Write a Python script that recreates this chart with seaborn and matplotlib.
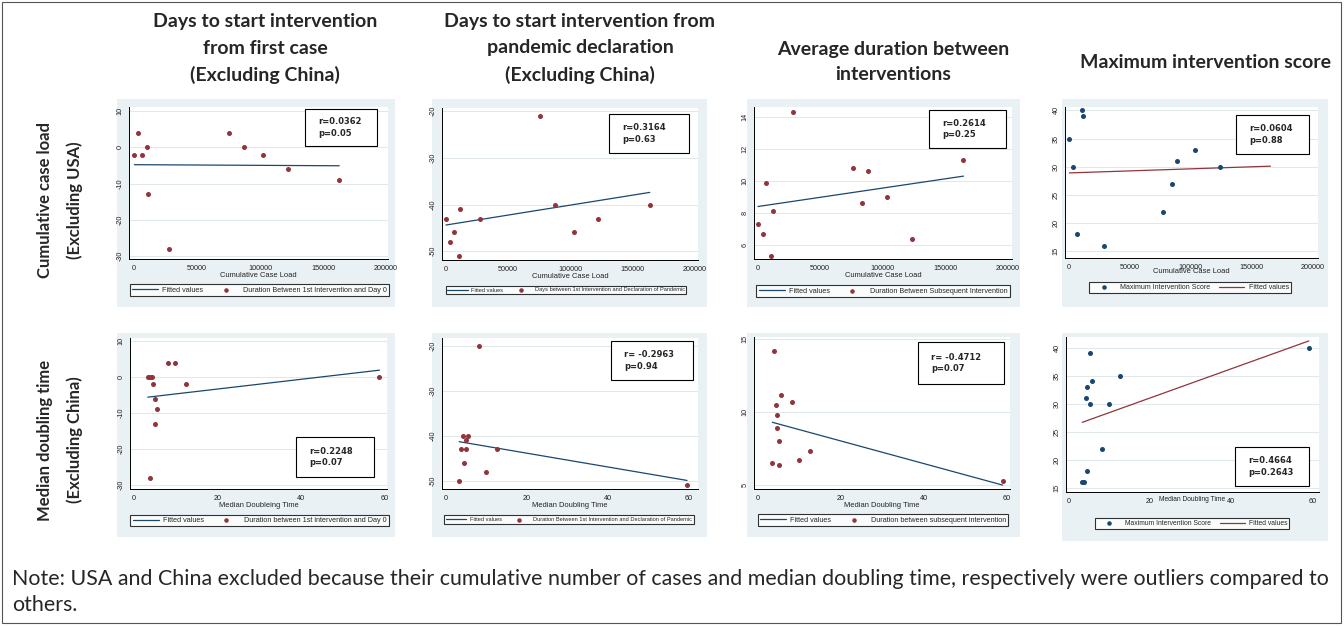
import matplotlib
matplotlib.use("Agg")
import matplotlib.pyplot as plt
from matplotlib.patches import Rectangle
import seaborn as sns
import pandas as pd

W, H = 1344, 626

# ---------------- data ----------------
# Row 1: x = cumulative case load (excluding USA)
case_load_p1 = [300, 3400, 6600, 10100, 11400, 27800, 75500, 87400, 102300, 121900, 162900]
days_first_case_p1 = [-2, 4, -2, 0, -13, -28, 4, 0, -2, -6, -9]
fit_x_p1 = [300, 162900]
fit_y_p1 = [-4.8, -5.1]

case_load_p2 = [500, 4000, 6700, 10700, 11500, 28000, 76000, 88000, 102900, 122700, 164000]
days_pandemic_p2 = [-43, -48, -46, -51, -41, -43, -21, -40, -46, -43, -40]
fit_x_p2 = [500, 164000]
fit_y_p2 = [-44.4, -37.4]

case_load_p3 = [500, 4300, 6900, 10700, 12300, 28800, 76300, 83700, 88500, 103200, 123200, 164500]
avg_duration_p3 = [7.3, 6.7, 9.9, 5.3, 8.1, 14.3, 10.8, 8.6, 10.6, 9.0, 6.4, 11.3]
fit_x_p3 = [500, 164500]
fit_y_p3 = [8.4, 10.3]

case_load_p4 = [300, 3500, 6800, 10400, 11700, 28400, 76700, 84100, 88700, 103400, 124200]
max_score_p4 = [35, 30, 18, 40, 39, 16, 22, 27, 31, 33, 30]
fit_x_p4 = [300, 165200]
fit_y_p4 = [28.9, 30.1]

# Row 2: x = median doubling time (excluding China)
doubling_p5 = [3.3, 3.8, 4.2, 4.6, 5.0, 5.6, 5.1, 3.8, 8.1, 9.8, 12.4, 58.7]
days_first_case_p5 = [0, 0, 0, -2, -6, -9, -13, -28, 4, 4, -2, 0]
fit_x_p5 = [3.3, 58.7]
fit_y_p5 = [-5.6, 1.9]

doubling_p6 = [3.4, 3.9, 4.3, 4.6, 5.1, 5.2, 5.7, 8.3, 10.1, 12.7, 59.5]
days_pandemic_p6 = [-50, -43, -40, -46, -43, -41, -40, -20, -48, -43, -51]
fit_x_p6 = [3.4, 59.5]
fit_y_p6 = [-41.3, -49.9]

doubling_p7 = [4.0, 5.8, 4.4, 8.4, 4.7, 4.7, 5.2, 12.6, 10.0, 3.6, 5.2, 59.0]
avg_duration_p7 = [14.2, 11.2, 10.5, 10.7, 9.8, 8.9, 8.0, 7.3, 6.7, 6.5, 6.4, 5.3]
fit_x_p7 = [3.6, 59.0]
fit_y_p7 = [9.3, 5.0]

doubling_p8 = [3.4, 3.9, 4.7, 4.3, 4.7, 5.2, 5.2, 5.7, 8.3, 10.0, 12.6, 59.0]
max_score_p8 = [16, 16, 18, 31, 33, 39, 30, 34, 22, 30, 35, 40]
fit_x_p8 = [3.4, 59.0]
fit_y_p8 = [26.7, 41.2]

stats_labels = ["r=0.0362\np=0.05", "r=0.3164\np=0.63", "r=0.2614\np=0.25", "r=0.0604\np=0.88",
                "r=0.2248\np=0.07", "r= -0.2963\np=0.94", "r= -0.4712\np=0.07", "r=0.4664\np=0.2643"]

col_titles = [["Days to start intervention", "from first case", "(Excluding China)"],
              ["Days to start intervention from", "pandemic declaration", "(Excluding China)"],
              ["Average duration between", "interventions"],
              ["Maximum intervention score"]]
row_titles = [["Cumulative case load", "(Excluding USA)"],
              ["Median doubling time", "(Excluding China)"]]

x_ticks_case = [0, 50000, 100000, 150000, 200000]
x_ticks_doubling = [0, 20, 40, 60]

note_lines = ["Note: USA and China excluded because their cumulative number of cases and median doubling time, "
              "respectively were outliers compared to", "others."]

# ---------------- styling ----------------
sns.set_theme(style="white")
plt.rcParams['font.family'] = ['Liberation Sans', 'DejaVu Sans']

NAVY = "#1a476f"
MAROON = "#90353b"
BG = "#e9f1f4"
GRID = "#e1e8ea"

fig = plt.figure(figsize=(W / 100, H / 100), dpi=100)
fig.patch.set_facecolor("white")


def fbox(x0, y0, x1, y1):
    return [x0 / W, 1 - y1 / H, (x1 - x0) / W, (y1 - y0) / H]


def frect(x0, y0, x1, y1, **kw):
    r = Rectangle((x0 / W, 1 - y1 / H), (x1 - x0) / W, (y1 - y0) / H,
                  transform=fig.transFigure, **kw)
    fig.patches.append(r)
    return r


# outer border
frect(2, 2, W - 3, H - 3, facecolor="none", edgecolor="#555555", linewidth=0.8, zorder=-2)

panels = [
    dict(x=case_load_p1, y=days_first_case_p1, fx=fit_x_p1, fy=fit_y_p1,
         bg=(117, 99, 395, 307), ax=(129, 107, 388, 259), xlim=(-3968, 201600), ylim=(-30.8, 11.1),
         yt=[-30, -20, -10, 0, 10], xt=x_ticks_case, xlabel="Cumulative Case Load",
         scat_label="Duration Between 1st Intervention and Day 0", fit_first=True,
         box=(305, 109, 377, 146), leg=(137, 283, 382, 297), legfs=5.2),
    dict(x=case_load_p2, y=days_pandemic_p2, fx=fit_x_p2, fy=fit_y_p2,
         bg=(432, 99, 707, 307), ax=(442, 108, 698, 260), xlim=(-2667, 202667), ylim=(-51.9, -19.3),
         yt=[-50, -40, -30, -20], xt=x_ticks_case, xlabel="Cumulative Case Load",
         scat_label="Days between 1st Intervention and Declaration of Pandemic", fit_first=True,
         box=(609, 114, 689, 153), leg=(443, 283, 689, 297), legfs=4.1),
    dict(x=case_load_p3, y=avg_duration_p3, fx=fit_x_p3, fy=fit_y_p3,
         bg=(747, 99, 1020, 307), ax=(754, 107, 1012, 259), xlim=(-2667, 203200), ylim=(5.12, 14.62),
         yt=[6, 8, 10, 12, 14], xt=x_ticks_case, xlabel="Cumulative Case Load",
         scat_label="Duration Between Subsequent Intervention", fit_first=True,
         box=(929, 110, 1006, 148), leg=(764, 284, 1002, 298), legfs=5.2),
    dict(x=case_load_p4, y=max_score_p4, fx=fit_x_p4, fy=fit_y_p4,
         bg=(1062, 99, 1328, 307), ax=(1065, 107, 1318, 258), xlim=(-3276, 204200), ylim=(13.8, 40.6),
         yt=[15, 20, 25, 30, 35, 40], xt=x_ticks_case, xlabel="Cumulative Case Load",
         scat_label="Maximum Intervention Score", fit_first=False,
         box=(1236, 115, 1309, 154), leg=(1093, 281, 1287, 294), legfs=5.0, xlabel_pad=-1.5),
    dict(x=doubling_p5, y=days_first_case_p5, fx=fit_x_p5, fy=fit_y_p5,
         bg=(117, 333, 395, 537), ax=(130, 338, 387, 489), xlim=(-0.96, 60.5), ylim=(-31.1, 10.83),
         yt=[-30, -20, -10, 0, 10], xt=x_ticks_doubling, xlabel="Median Doubleing Time",
         scat_label="Duration between 1st intervention and Day 0", fit_first=True,
         box=(296, 437, 374, 477), leg=(137, 513, 382, 528), legfs=5.2),
    dict(x=doubling_p6, y=days_pandemic_p6, fx=fit_x_p6, fy=fit_y_p6,
         bg=(432, 333, 707, 537), ax=(442, 338, 698, 489), xlim=(-0.82, 62.2), ylim=(-51.8, -18.3),
         yt=[-50, -40, -30, -20], xt=x_ticks_doubling, xlabel="Median Doubling Time",
         scat_label="Duration Between 1st Intervention and Declaration of Pandemic", fit_first=True,
         box=(611, 341, 693, 380), leg=(443, 512, 695, 527), legfs=4.1),
    dict(x=doubling_p7, y=avg_duration_p7, fx=fit_x_p7, fy=fit_y_p7,
         bg=(747, 333, 1020, 537), ax=(754, 337, 1010, 489), xlim=(-0.8, 60.8), ylim=(4.73, 15.14),
         yt=[5, 10, 15], xt=x_ticks_doubling, xlabel="Median Doubling Time",
         scat_label="Duration between subsequent intervention", fit_first=True,
         box=(918, 342, 1004, 384), leg=(764, 512, 1002, 528), legfs=5.2),
    dict(x=doubling_p8, y=max_score_p8, fx=fit_x_p8, fy=fit_y_p8,
         bg=(1062, 333, 1328, 541), ax=(1066, 337, 1319, 492), xlim=(-0.57, 61.5), ylim=(14.3, 41.9),
         yt=[15, 20, 25, 30, 35, 40], xt=x_ticks_doubling, xlabel="Median Doubling Time",
         scat_label="Maximum Intervention Score", fit_first=False,
         box=(1235, 447, 1309, 486), leg=(1097, 517, 1287, 530), legfs=4.9, xlabel_pad=-6.0,
         xlabel_fs=4.8),
]

for i, p in enumerate(panels):
    frect(*p["bg"], facecolor=BG, edgecolor="none", zorder=-1)
    ax = fig.add_axes(fbox(*p["ax"]))
    ax.set_facecolor("white")
    df = pd.DataFrame({"x": p["x"], "y": p["y"]})
    fit = pd.DataFrame({"x": p["fx"], "y": p["fy"]})
    if p["fit_first"]:
        line_c, pt_c = NAVY, MAROON
    else:
        line_c, pt_c = MAROON, NAVY

    def draw_fit():
        sns.lineplot(data=fit, x="x", y="y", ax=ax, color=line_c, linewidth=0.9,
                     label="Fitted values", zorder=3)

    def draw_scatter():
        sns.scatterplot(data=df, x="x", y="y", ax=ax, color=pt_c, s=13, linewidth=0,
                        marker="o", label=p["scat_label"], zorder=4)

    if p["fit_first"]:
        draw_fit(); draw_scatter()
    else:
        draw_scatter(); draw_fit()

    ax.set_xlim(*p["xlim"])
    ax.set_ylim(*p["ylim"])
    ax.set_xticks(p["xt"])
    ax.set_yticks(p["yt"])
    ax.set_xticklabels([str(v) for v in p["xt"]])
    ax.set_yticklabels([str(v) for v in p["yt"]])
    for yv in p["yt"]:
        ax.axhline(yv, color=GRID, linewidth=0.7, zorder=1)
    for s in ["top", "right"]:
        ax.spines[s].set_visible(False)
    for s in ["left", "bottom"]:
        ax.spines[s].set_color("black")
        ax.spines[s].set_linewidth(0.7)
    ax.tick_params(axis="both", direction="out", length=2.5, width=0.6, color="black",
                   labelsize=5.2, pad=1.5, labelcolor="#222222")
    ax.tick_params(axis="y", labelrotation=90)
    for lab in ax.get_yticklabels():
        lab.set_va("center")
    ax.set_xlabel(p["xlabel"], fontsize=p.get("xlabel_fs", 5.4),
                  labelpad=p.get("xlabel_pad", 0.3), color="#222222")
    ax.set_ylabel("")

    handles, labels = ax.get_legend_handles_labels()
    lx0, ly0, lx1, ly1 = p["leg"]
    leg = ax.legend(handles, labels, loc="center",
                    bbox_to_anchor=((lx0 + lx1) / 2 / W, 1 - (ly0 + ly1) / 2 / H),
                    bbox_transform=fig.transFigure, ncol=2, fontsize=p["legfs"],
                    frameon=True, fancybox=False, borderpad=0.3, handlelength=3.6,
                    handletextpad=0.6, columnspacing=1.3, markerscale=0.9)
    leg.get_frame().set_edgecolor("black")
    leg.get_frame().set_linewidth(0.8)
    leg.get_frame().set_facecolor("white")

    # statistics box
    bx0, by0, bx1, by1 = p["box"]
    frect(bx0, by0, bx1, by1, facecolor="white", edgecolor="black", linewidth=0.8, zorder=5)
    fig.text((bx0 + 13) / W, 1 - (by0 + by1) / 2 / H, stats_labels[i], ha="left", va="center",
             fontsize=6.0, fontweight="bold", family=["DejaVu Sans"], linespacing=1.3,
             zorder=6)

# column titles (one text per line)
col_centers = [265, 580, 893, 1205]
col_line_ys = [[22, 48, 75], [22, 48, 75], [49, 75], [62]]
for cx, ys, lines in zip(col_centers, col_line_ys, col_titles):
    for y, t in zip(ys, lines):
        fig.text(cx / W, 1 - y / H, t, ha="center", va="center", fontsize=14.0,
                 fontweight="bold", family=["Lato", "DejaVu Sans"])

# row titles
row_centers = [200, 440]
row_xs = [45, 75]
for cy, lines in zip(row_centers, row_titles):
    for x, t in zip(row_xs, lines):
        fig.text(x / W, 1 - cy / H, t, ha="center", va="center", rotation=90, fontsize=12.0,
                 fontweight="bold", family=["Lato", "DejaVu Sans"])

# note
for y, t in zip([579, 605], note_lines):
    fig.text(12 / W, 1 - y / H, t, ha="left", va="center", fontsize=15.4,
             family=["Lato", "DejaVu Sans"])

fig.savefig("out.png", dpi=100, facecolor="white")
